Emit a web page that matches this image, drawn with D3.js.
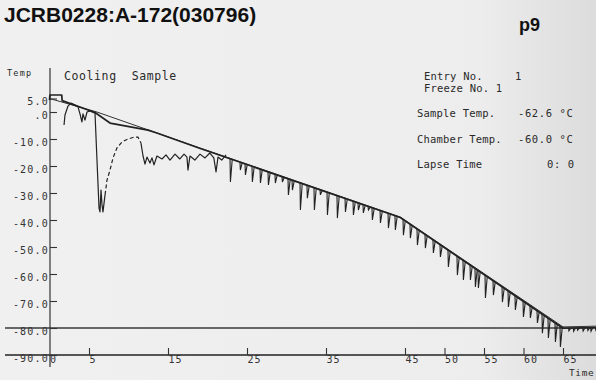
<!DOCTYPE html>
<html><head><meta charset="utf-8">
<script src="https://cdn.jsdelivr.net/npm/d3@7"></script>
<style>html,body{margin:0;padding:0;background:#efefef;overflow:hidden}</style>
</head><body>
<svg id="c" width="596" height="380"></svg>
<script>
// ---- data ----
const xTicks = [0, 5, 15, 25, 35, 45, 50, 55, 60, 65];
const yTicks = [5, 0, -10, -20, -30, -40, -50, -60, -70, -80, -90];

// programmed (thin, straight) line
const setTime = [0, 6, 19, 44.4, 65, 69.5];
const setTemp = [5.0, 0.0, -13.3, -38.9, -79.6, -79.3];

// chamber trace (thick line)
const chamberTime = [0, 0.05, 1.55, 1.6, 5.76, 7.66, 12.47, 13.5, 19, 44.4, 65, 69.5];
const chamberTemp = [4.4, 6.3, 6.3, 4.2, -0.2, -4.1, -6.7, -7.7, -13.4, -39.1, -80.1, -79.8];

// sample trace, early part (freezing plunge and noisy recovery)
const sampleTime = [1.84, 1.96, 2.34, 2.72, 3.6, 3.86, 4.11, 4.24, 4.49, 4.75, 5.13, 5.76, 6.01, 6.27, 6.39, 6.52, 6.65, 6.77, 7.03, 7.28, 7.66, 8.04, 8.54, 9.18, 9.94, 10.7, 11.2, 11.58, 11.84, 12.09, 12.34, 12.72, 12.97, 13.23, 13.6, 14.24, 14.75, 15.25, 15.89, 16.5, 17.03, 17.4, 17.53, 17.78, 18.4, 19.05, 19.68, 20.3, 20.8, 21.08, 21.33, 21.8, 22.34];
const sampleTemp = [-4.8, -1.1, 2.2, 3.3, 2.0, -0.7, -3.7, -0.7, -3.0, 0.0, 0.4, -0.4, -17.8, -35.6, -37.0, -28.9, -34.4, -37.0, -30.7, -25.2, -21.5, -17.0, -13.3, -11.1, -10.0, -9.3, -9.3, -11.5, -16.3, -19.3, -16.7, -18.9, -17.0, -19.6, -16.3, -17.4, -15.9, -17.8, -15.6, -17.4, -15.6, -16.7, -21.5, -16.3, -17.8, -15.6, -17.0, -15.2, -17.0, -22.2, -16.7, -17.8, -15.9];
const penSkipFrom = 7.03, penSkipTo = 11.58;   // dashed stretch of the sample trace

// sample trace, later part: downward spikes hanging from the chamber trace (time, lowest temp)
const spikeTime = [22.85, 24.11, 24.75, 25.63, 26.65, 27.66, 28.54, 29.43, 30.19, 30.7, 31.71, 32.59, 33.48, 34.24, 35.13, 36.39, 37.41, 38.42, 39.05, 39.68, 40.32, 40.82, 41.84, 42.85, 43.73, 44.75, 45.63, 46.52, 47.53, 48.54, 49.43, 50.44, 51.58, 52.34, 53.23, 53.86, 54.24, 55.13, 56.14, 57.28, 58.04, 58.92, 59.94, 60.82, 61.71, 62.34, 63.1, 63.99, 64.62, 65.7, 66.3, 66.8, 67.5, 68.1, 68.5, 69.1];
const spikeTemp = [-25.9, -21.5, -23.3, -25.9, -26.3, -27.0, -26.3, -25.9, -30.7, -28.9, -36.3, -31.9, -36.3, -30.7, -38.1, -39.3, -37.0, -38.1, -36.3, -37.4, -36.3, -40.0, -41.1, -43.0, -43.7, -45.6, -46.7, -49.3, -50.4, -52.2, -53.7, -57.4, -60.4, -62.2, -62.2, -64.8, -65.2, -68.9, -67.8, -70.4, -72.2, -73.3, -75.9, -76.3, -78.1, -81.9, -83.7, -85.2, -87.0, -81.0, -81.2, -80.8, -81.1, -80.9, -81.2, -80.8];

const titleText = "JCRB0228:A-172(030796)";
const pageText = "p9";
const infoLabels = ["Sample Temp.", "Chamber Temp.", "Lapse Time"];
const infoValues = ["-62.6 °C", "-60.0 °C", "0: 0"];

if (sampleTime.length !== sampleTemp.length) throw new Error("sample length mismatch");
if (spikeTime.length !== spikeTemp.length) throw new Error("spike length mismatch");

// ---- drawing ----
const svg = d3.select("#c");
const W = 596, H = 380;
const ink = "#222";
const mono = "'DejaVu Sans Mono', 'Liberation Mono', monospace";

const defs = svg.append("defs");
const g = defs.append("linearGradient").attr("id", "paper").attr("x1", 0).attr("x2", 1).attr("y1", 0).attr("y2", 0);
g.append("stop").attr("offset", "0%").attr("stop-color", "#f0f0f0");
g.append("stop").attr("offset", "80%").attr("stop-color", "#ededed");
g.append("stop").attr("offset", "100%").attr("stop-color", "#dcdcdc");
svg.append("rect").attr("width", W).attr("height", H).attr("fill", "url(#paper)");

const x = d3.scaleLinear().domain([0, 65]).range([49.5, 563]);
const y = d3.scaleLinear().domain([-90, 0]).range([355, 112]);

// reference lines
svg.append("line").attr("x1", 5).attr("x2", W).attr("y1", y(-80)).attr("y2", y(-80))
  .attr("stroke", "#3a3a3a").attr("stroke-width", 1.4);
svg.append("line").attr("x1", 5).attr("x2", W).attr("y1", y(-90)).attr("y2", y(-90))
  .attr("stroke", ink).attr("stroke-width", 1.4);
svg.append("line").attr("x1", 50).attr("x2", 50).attr("y1", 68).attr("y2", 367)
  .attr("stroke", "#333").attr("stroke-width", 1.2);

// x axis
const xa = svg.append("g").attr("transform", `translate(0,${y(-90)})`)
  .call(d3.axisBottom(x).tickValues(xTicks).tickSize(-7).tickPadding(1).tickFormat(d3.format("d")));
xa.select(".domain").remove();
xa.selectAll(".tick line").attr("stroke", "#333").attr("stroke-width", 1.1)
  .attr("display", d => d === 0 ? "none" : null);
xa.selectAll(".tick text").attr("text-anchor", "start").attr("fill", "#333")
  .style("font-family", mono).style("font-size", "10px").style("letter-spacing", "1px");

// y axis
const ya = svg.append("g").attr("transform", "translate(50,0)")
  .call(d3.axisLeft(y).tickValues(yTicks).tickSize(-7).tickPadding(1)
    .tickFormat(v => v === 0 ? ".0" : v.toFixed(1)));
ya.select(".domain").remove();
ya.selectAll(".tick line").attr("stroke", "#333").attr("stroke-width", 1.1);
ya.selectAll(".tick text").attr("fill", "#333").attr("dy", "0.62em")
  .style("font-family", mono).style("font-size", "10px").style("letter-spacing", "1.2px");

// lines
const ln = d3.line().x(d => x(d[0])).y(d => y(d[1]));
const setPts = setTime.map((t, i) => [t, setTemp[i]]);
const chPts = chamberTime.map((t, i) => [t, chamberTemp[i]]);
const smPts = sampleTime.map((t, i) => [t, sampleTemp[i]]);

svg.append("path").attr("d", ln(setPts)).attr("fill", "none").attr("stroke", "#333").attr("stroke-width", 1);
svg.append("path").attr("d", ln(chPts)).attr("fill", "none").attr("stroke", ink).attr("stroke-width", 1.7)
  .attr("stroke-linejoin", "round");

const solid = d3.line().defined(d => d[0] <= penSkipFrom || d[0] >= penSkipTo).x(d => x(d[0])).y(d => y(d[1]));
svg.append("path").attr("d", solid(smPts)).attr("fill", "none").attr("stroke", ink).attr("stroke-width", 1.2)
  .attr("stroke-linejoin", "round");
svg.append("path").attr("d", ln(smPts.filter(d => d[0] >= penSkipFrom && d[0] <= penSkipTo)))
  .attr("fill", "none").attr("stroke", ink).attr("stroke-width", 1.2).attr("stroke-dasharray", "4,2.5");

// spikes hang from the chamber trace
const chAt = d3.scaleLinear().domain(chamberTime).range(chamberTemp);
const spikes = spikeTime.map((t, i) => [[t, chAt(t)], [t + 0.05, spikeTemp[i]], [t + 0.28, chAt(t + 0.28)]]);
svg.append("g").selectAll("path").data(spikes).join("path")
  .attr("d", ln).attr("fill", "none").attr("stroke", ink).attr("stroke-width", 1.1);

// texts
svg.append("text").attr("x", 4).attr("y", 22).text(titleText)
  .style("font-family", "'Liberation Sans', Arial, sans-serif").style("font-weight", "bold")
  .style("font-size", "21px").attr("fill", "#111");
svg.append("text").attr("x", 519).attr("y", 31).text(pageText)
  .style("font-family", "'Liberation Sans', Arial, sans-serif").style("font-weight", "bold")
  .style("font-size", "18px").attr("fill", "#111");

const t = (xx, yy, s, size, ls) => svg.append("text").attr("x", xx).attr("y", yy).text(s)
  .attr("fill", "#2a2a2a").style("font-family", mono).style("font-size", size + "px")
  .style("letter-spacing", ls + "px").style("white-space", "pre");

t(7, 76, "Temp", 8.5, 1.2);
t(64, 80, "Cooling  Sample", 11.5, 0.6);
t(424, 80, "Entry No.", 10.5, 0.2);
t(515, 80, "1", 10.5, 0);
t(424, 92, "Freeze No. 1", 10.5, 0.2);
const infoY = [117, 143, 168];
const infoX = [518, 518, 547];
infoLabels.forEach((s, i) => t(417, infoY[i], s, 10.5, 0.2));
infoValues.forEach((s, i) => t(infoX[i], infoY[i], s, 10.5, 0.6));
t(569, 376, "Time", 9.5, 0.6);
</script>
</body></html>
